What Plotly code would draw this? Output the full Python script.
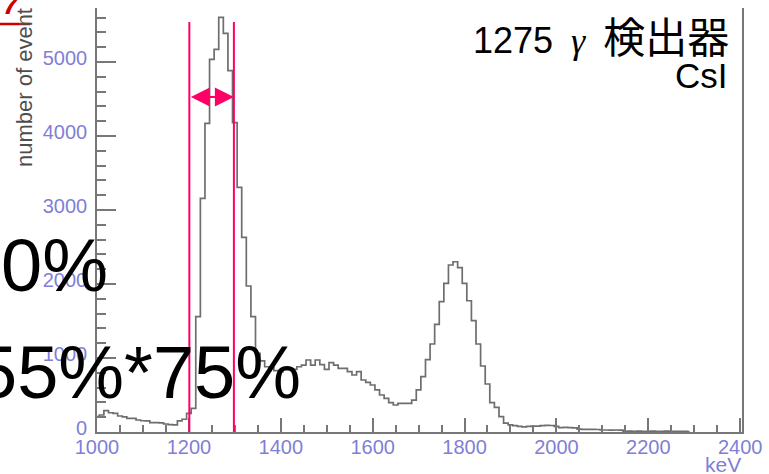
import plotly.graph_objects as go

# ---------------- data ----------------
bin_start_kev = 1000
bin_width_kev = 10
counts = [
    207, 230, 288, 260, 253, 216, 205, 185, 183, 162,   # 1000-1090
    152, 149, 128, 126, 124, 108, 100, 95, 149, 172,    # 1100-1190
    253, 320, 1558, 3158, 4171, 5036, 5171, 5604, 5387, 4883,  # 1200-1290
    4180, 3306, 2631, 1973, 1558, 1063, 960, 882, 870, 830,     # 1300-1390
    815, 838, 838, 847, 882, 905, 973, 905, 973, 910,   # 1400-1490
    847, 937, 905, 860, 860, 815, 770, 815, 703, 671,   # 1500-1590
    635, 568, 500, 455, 396, 365, 388, 388, 388, 432,   # 1600-1690
    568, 747, 978, 1189, 1455, 1761, 2009, 2257, 2301, 2221,  # 1700-1790
    2009, 1774, 1504, 1189, 892, 649, 396, 333, 207, 120,     # 1800-1890
    95, 85, 75, 70, 75, 80, 80, 85, 90, 88,             # 1900-1990
    75, 60, 62, 58, 55, 38, 36, 36, 35, 34,             # 2000-2090
    27, 27, 26, 27, 25, 10, 12, 9, 11, 10,              # 2100-2190
    9, 12, 10, 8, 11, 9, 10, 8, 9, 7,                   # 2200-2290
]
energy_kev = [bin_start_kev + bin_width_kev * i for i in range(len(counts))]

x_tick_vals = [1000, 1200, 1400, 1600, 1800, 2000, 2200, 2400]
y_tick_vals = [0, 1000, 2000, 3000, 4000, 5000]
window_kev = [1201, 1298]        # magenta window lines
window_top = 5540
arrow_level = 4527

title_line1 = ("1275\u2002<span style='font-family:Liberation Serif'><i>γ</i></span>\u2002"
               "<span style='font-size:42px'>検出器</span>")
title_line2 = "CsI"
overlay_line1 = "0%"
overlay_line2 = "55%*75%"

# ---------------- layout geometry ----------------
W, H = 769, 474
L, R, T, B = 97, 27, 8, 42
PW, PH = W - L - R, H - T - B


def px(xp):
    return (xp - L) / PW


def py(yp):
    return (H - B - yp) / PH


axis_col = "#777777"
tick_col = "#7f7fd6"
pink = "#ff0066"

fig = go.Figure()
fig.add_trace(go.Scatter(
    x=energy_kev, y=counts, mode="lines",
    line=dict(shape="hvh", color="#6e6e6e", width=1.7),
    hoverinfo="skip", showlegend=False,
))

for xv in window_kev:
    fig.add_shape(type="line", xref="x", yref="y", x0=xv, x1=xv,
                  y0=0, y1=window_top, line=dict(color=pink, width=2))

fig.add_annotation(
    x=window_kev[1], y=arrow_level, ax=window_kev[0], ay=arrow_level,
    xref="x", yref="y", axref="x", ayref="y", text="", showarrow=True,
    arrowhead=2, startarrowhead=2, arrowside="end+start",
    arrowsize=1.9, startarrowsize=1.9, arrowwidth=2, arrowcolor=pink,
    standoff=0, startstandoff=0,
)

big_font = dict(family="Liberation Sans, Arial, sans-serif", size=74, color="black")
title_font = dict(family="Liberation Sans, Arial, Noto Sans CJK JP", size=36, color="black")

fig.add_annotation(xref="paper", yref="paper", x=px(731), y=py(38),
                   xanchor="right", yanchor="middle", text=title_line1,
                   showarrow=False, font=title_font)
fig.add_annotation(xref="paper", yref="paper", x=px(730), y=py(75),
                   xanchor="right", yanchor="middle", text=title_line2,
                   showarrow=False, font=dict(title_font, size=35))
fig.add_annotation(xref="paper", yref="paper", x=px(110), y=py(266),
                   xanchor="right", yanchor="middle", text=overlay_line1,
                   showarrow=False, font=big_font)
fig.add_annotation(xref="paper", yref="paper", x=px(303), y=py(372),
                   xanchor="right", yanchor="middle", text=overlay_line2,
                   showarrow=False, font=big_font)

# y-axis title (ROOT style, top aligned)
fig.add_annotation(xref="paper", yref="paper", x=px(25), y=py(88),
                   xanchor="center", yanchor="middle", textangle=-90,
                   text="number of event", showarrow=False,
                   font=dict(family="Liberation Sans, Arial", size=22, color="#4d4d4d"))
# x-axis unit
fig.add_annotation(xref="paper", yref="paper", x=px(743), y=py(465),
                   xanchor="right", yanchor="middle", text="keV",
                   showarrow=False,
                   font=dict(family="Liberation Sans, Arial", size=21, color=tick_col))

# red fragment at the top-left corner of the slide
fig.add_annotation(xref="paper", yref="paper", x=px(22), y=py(22),
                   xanchor="right", yanchor="bottom", text="<b><i>7</i></b>",
                   showarrow=False,
                   font=dict(family="Liberation Sans, Arial", size=28, color="#cc0000"))
fig.add_shape(type="line", xref="paper", yref="paper", x0=px(0), x1=px(30),
              y0=py(24), y1=py(24), line=dict(color="#cc0000", width=2.5))

fig.update_layout(
    width=W, height=H, margin=dict(l=L, r=R, t=T, b=B),
    paper_bgcolor="white", plot_bgcolor="white", showlegend=False,
    font=dict(family="Liberation Sans, Arial", size=20, color=tick_col),
)
fig.update_xaxes(
    range=[1000, 2404], tickvals=x_tick_vals, ticks="inside", ticklen=14,
    tickwidth=1.5, tickcolor=axis_col, showline=True, linecolor=axis_col,
    linewidth=1.6, showgrid=False, zeroline=False,
    tickfont=dict(size=20, color=tick_col), ticklabelstandoff=-4,
    minor=dict(tick0=1000, dtick=50, ticks="inside", ticklen=7,
               tickwidth=1.5, tickcolor=axis_col, showgrid=False),
)
fig.update_yaxes(
    range=[0, 5730], tickvals=y_tick_vals, ticks="inside", ticklen=19,
    tickwidth=1.5, tickcolor=axis_col, showline=True, linecolor=axis_col,
    linewidth=1.6, mirror=True, showgrid=False, zeroline=False,
    tickfont=dict(size=20, color=tick_col), ticklabelstandoff=4,
    ticklabelshift=-4,
    minor=dict(tick0=0, dtick=200, ticks="inside", ticklen=9,
               tickwidth=1.5, tickcolor=axis_col, showgrid=False),
)

fig.write_html("out.html")
